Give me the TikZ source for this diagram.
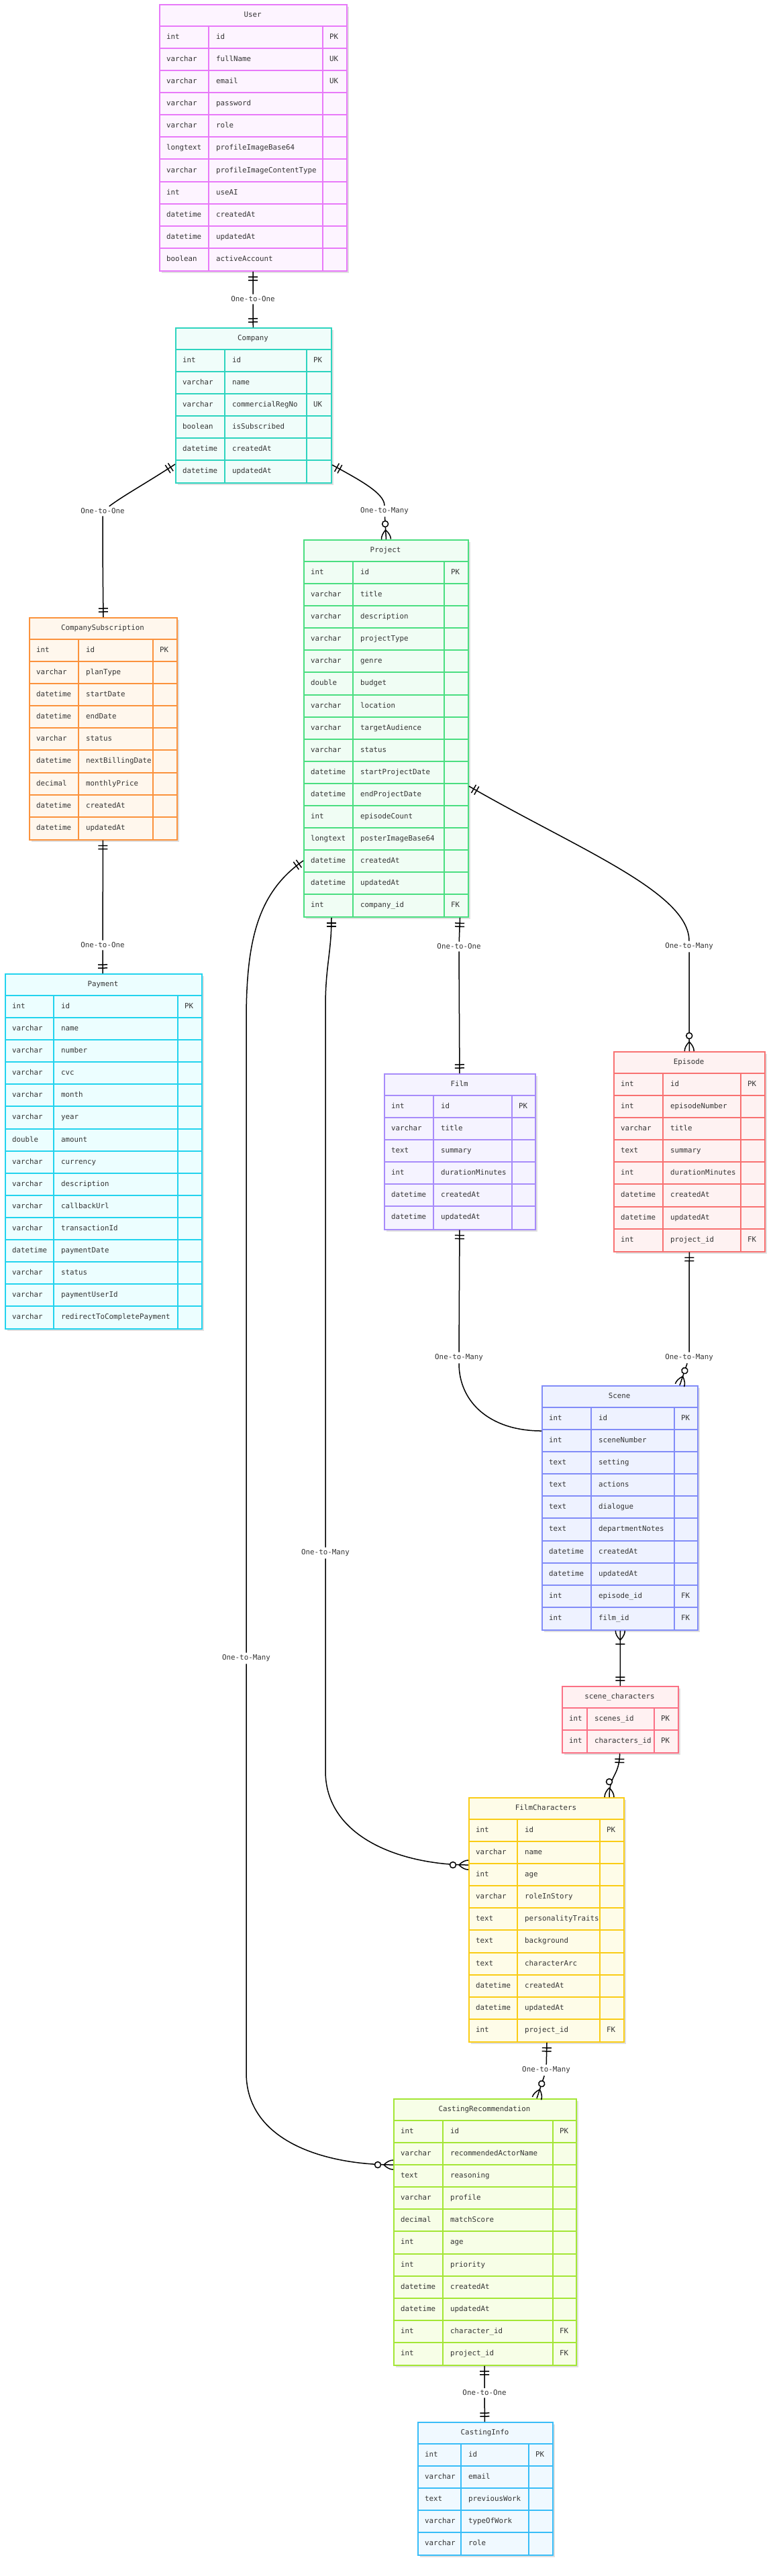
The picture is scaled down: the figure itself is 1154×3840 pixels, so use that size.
\documentclass[tikz,border=0pt]{standalone}
\usepackage{fontspec}
\setmainfont{DejaVu Sans Mono}
\usetikzlibrary{decorations.markings,shadows}

\definecolor{txt}{HTML}{333333}
\definecolor{userline}{HTML}{E879F9}    \definecolor{userfill}{HTML}{FDF4FF}
\definecolor{compline}{HTML}{2DD4BF}    \definecolor{compfill}{HTML}{F0FDFA}
\definecolor{subsline}{HTML}{FB923C}    \definecolor{subsfill}{HTML}{FFF7ED}
\definecolor{projline}{HTML}{4ADE80}    \definecolor{projfill}{HTML}{F0FDF4}
\definecolor{payline}{HTML}{22D3EE}     \definecolor{payfill}{HTML}{ECFEFF}
\definecolor{filmline}{HTML}{A78BFA}    \definecolor{filmfill}{HTML}{F5F3FF}
\definecolor{episline}{HTML}{F87171}    \definecolor{episfill}{HTML}{FEF2F2}
\definecolor{sceneline}{HTML}{818CF8}   \definecolor{scenefill}{HTML}{EEF2FF}
\definecolor{scline}{HTML}{FB7185}      \definecolor{scfill}{HTML}{FFF1F2}
\definecolor{charline}{HTML}{FACC15}    \definecolor{charfill}{HTML}{FEFCE8}
\definecolor{recline}{HTML}{A3E635}     \definecolor{recfill}{HTML}{F7FEE7}
\definecolor{infoline}{HTML}{38BDF8}    \definecolor{infofill}{HTML}{F0F9FF}

\newcommand{\rowh}{33.07}
% #1 node, #2 colour, #3 left, #4 top, #5 col 1, #6 col 2, #7 right, #8 title, #9 rows
\newcommand{\erentity}[9]{%
    \foreach [count=\n] \ftype/\fname/\fkey in {#9} {\xdef\nrows{\n}}
    \pgfmathsetmacro{\ebottom}{#4+(\nrows+1)*\rowh}
    \node[entity=#2, anchor=north west, minimum width={(#7-#3)*1pt},
        minimum height={(\ebottom-#4)*1pt}] (#1) at (#3,#4) {};
    \node[cell, anchor=center] at ({(#3+#7)/2},{#4+\rowh/2}) {#8};
    \foreach [count=\n] \ftype/\fname/\fkey in {#9} {
        \pgfmathsetmacro{\ry}{#4+\n*\rowh}
        \draw[#2line, line width=2pt] (#3,\ry) -- (#7,\ry);
        \node[cell] at ({#3+11},{\ry+\rowh/2}) {\ftype};
        \node[cell] at ({#5+11},{\ry+\rowh/2}) {\fname};
        \node[cell] at ({#6+10},{\ry+\rowh/2}) {\fkey};
    }
    \draw[#2line, line width=2pt] (#5,{#4+\rowh}) -- (#5,\ebottom) (#6,{#4+\rowh}) -- (#6,\ebottom);
}

\begin{document}
\begin{tikzpicture}[x=1pt,y=-1pt]
    \tikzstyle{cell}=[anchor=west, inner sep=0pt, text=txt, font=\fontsize{10.8}{13}\selectfont, text height=8pt, text depth=2pt]
    \tikzstyle{rel}=[draw=black, line width=1.5pt]
    \tikzstyle{rel label}=[inner sep=3pt, text=txt, font=\fontsize{10.8}{13}\selectfont]
    \tikzstyle{mark line}=[draw=black, line width=1.5pt]
    \tikzset{entity/.style={rectangle, draw=#1line, fill=#1fill, line width=2pt, inner sep=0pt,
        drop shadow={opacity=0.12, fill=black, shadow xshift=3pt, shadow yshift=-3pt}}}
    \tikzstyle{bars start}=[postaction={decorate, decoration={markings, mark=at position 0 with {\draw[mark line] (8,-7) -- (8,7) (13,-7) -- (13,7);}}}]
    \tikzstyle{bars end}=[postaction={decorate, decoration={markings, mark=at position 1 with {\draw[mark line] (-8,-7) -- (-8,7) (-13,-7) -- (-13,7);}}}]
    \tikzstyle{many end}=[postaction={decorate, decoration={markings, mark=at position 1 with {\draw[mark line] (-14,0) .. controls (-9.3,4.7) and (-4.7,7) .. (0,7) (-14,0) .. controls (-9.3,-4.7) and (-4.7,-7) .. (0,-7); \draw[mark line, fill=white] (-23,0) circle (4.5);}}}]
    \tikzstyle{onemany start}=[postaction={decorate, decoration={markings, mark=at position 0 with {\draw[mark line] (14,0) .. controls (9.3,4.7) and (4.7,7) .. (0,7) (14,0) .. controls (9.3,-4.7) and (4.7,-7) .. (0,-7) (20,-7) -- (20,7);}}}]

    \useasboundingbox (0,0) rectangle (1154,3840);

    % Entities
    \erentity{User}{user}{237}{6}{311}{481}{516}{User}{int/id/PK, varchar/fullName/UK, varchar/email/UK, varchar/password/{}, varchar/role/{}, longtext/profileImageBase64/{}, varchar/profileImageContentType/{}, int/useAI/{}, datetime/createdAt/{}, datetime/updatedAt/{}, boolean/activeAccount/{}}
    \erentity{Company}{comp}{261}{488}{335}{457}{493}{Company}{int/id/PK, varchar/name/{}, varchar/commercialRegNo/UK, boolean/isSubscribed/{}, datetime/createdAt/{}, datetime/updatedAt/{}}
    \erentity{CompanySubscription}{subs}{43}{920}{117}{228}{263}{CompanySubscription}{int/id/PK, varchar/planType/{}, datetime/startDate/{}, datetime/endDate/{}, varchar/status/{}, datetime/nextBillingDate/{}, decimal/monthlyPrice/{}, datetime/createdAt/{}, datetime/updatedAt/{}}
    \erentity{Project}{proj}{452}{804}{526}{662}{697}{Project}{int/id/PK, varchar/title/{}, varchar/description/{}, varchar/projectType/{}, varchar/genre/{}, double/budget/{}, varchar/location/{}, varchar/targetAudience/{}, varchar/status/{}, datetime/startProjectDate/{}, datetime/endProjectDate/{}, int/episodeCount/{}, longtext/posterImageBase64/{}, datetime/createdAt/{}, datetime/updatedAt/{}, int/company\_id/FK}
    \erentity{Payment}{pay}{7}{1451}{80}{265}{300}{Payment}{int/id/PK, varchar/name/{}, varchar/number/{}, varchar/cvc/{}, varchar/month/{}, varchar/year/{}, double/amount/{}, varchar/currency/{}, varchar/description/{}, varchar/callbackUrl/{}, varchar/transactionId/{}, datetime/paymentDate/{}, varchar/status/{}, varchar/paymentUserId/{}, varchar/redirectToCompletePayment/{}}
    \erentity{Film}{film}{572}{1600}{646}{763}{797}{Film}{int/id/PK, varchar/title/{}, text/summary/{}, int/durationMinutes/{}, datetime/createdAt/{}, datetime/updatedAt/{}}
    \erentity{Episode}{epis}{914}{1567}{988}{1104}{1139}{Episode}{int/id/PK, int/episodeNumber/{}, varchar/title/{}, text/summary/{}, int/durationMinutes/{}, datetime/createdAt/{}, datetime/updatedAt/{}, int/project\_id/FK}
    \erentity{Scene}{scene}{807}{2065}{881}{1005}{1039}{Scene}{int/id/PK, int/sceneNumber/{}, text/setting/{}, text/actions/{}, text/dialogue/{}, text/departmentNotes/{}, datetime/createdAt/{}, datetime/updatedAt/{}, int/episode\_id/FK, int/film\_id/FK}
    \erentity{SceneCharacters}{sc}{837}{2513}{875}{975}{1010}{scene\_characters}{int/scenes\_id/PK, int/characters\_id/PK}
    \erentity{FilmCharacters}{char}{698}{2679}{771}{894}{929}{FilmCharacters}{int/id/PK, varchar/name/{}, int/age/{}, varchar/roleInStory/{}, text/personalityTraits/{}, text/background/{}, text/characterArc/{}, datetime/createdAt/{}, datetime/updatedAt/{}, int/project\_id/FK}
    \erentity{CastingRecommendation}{rec}{586}{3128}{660}{824}{858}{CastingRecommendation}{int/id/PK, varchar/recommendedActorName/{}, text/reasoning/{}, varchar/profile/{}, decimal/matchScore/{}, int/age/{}, int/priority/{}, datetime/createdAt/{}, datetime/updatedAt/{}, int/character\_id/FK, int/project\_id/FK}
    \erentity{CastingInfo}{info}{622}{3610}{687}{788}{823}{CastingInfo}{int/id/PK, varchar/email/{}, text/previousWork/{}, varchar/typeOfWork/{}, varchar/role/{}}

    % Relationship labels
    \node[rel label] (uc-lbl) at (377,446) {One-to-One};
    \node[rel label] (cs-lbl) at (153,762) {One-to-One};
    \node[rel label] (cp-lbl) at (573,762) {One-to-Many};
    \node[rel label] (sp-lbl) at (153,1409) {One-to-One};
    \node[rel label] (pf-lbl) at (684,1411) {One-to-One};
    \node[rel label] (pe-lbl) at (1027,1411) {One-to-Many};
    \node[rel label] (fs-lbl) at (684,2024) {One-to-Many};
    \node[rel label] (es-lbl) at (1027,2024) {One-to-Many};
    \node[rel label] (pfc-lbl) at (485,2315) {One-to-Many};
    \node[rel label] (pcr-lbl) at (367,2472) {One-to-Many};
    \node[rel label] (fcr-lbl) at (814,3086) {One-to-Many};
    \node[rel label] (cri-lbl) at (722,3567) {One-to-One};

    % Relationships
    \draw[rel, bars start] (User) -- (uc-lbl);
    \draw[rel, bars end] (uc-lbl) -- (Company);

    \draw[rel, bars start] (Company.west |- 0,692) .. controls (215,722) and (185,738) .. (cs-lbl);
    \draw[rel, bars end] (cs-lbl) .. controls (153,800) and (153,840) .. (CompanySubscription.north);

    \draw[rel, bars start] (Company.east |- 0,693) .. controls (535,715) and (573,735) .. (cp-lbl);
    \draw[rel, many end] (cp-lbl) -- (Project.north);

    \draw[rel, bars start] (CompanySubscription) -- (sp-lbl);
    \draw[rel, bars end] (sp-lbl) -- (Payment);

    \draw[rel, bars start] (Project.south -| Film.north) -- (pf-lbl);
    \draw[rel, bars end] (pf-lbl) -- (Film);

    \draw[rel, bars start] (Project.east |- 0,1172) .. controls (860,1265) and (1027,1330) .. (pe-lbl);
    \draw[rel, many end] (pe-lbl) -- (Episode);

    \draw[rel, bars start] (Film) -- (fs-lbl);
    \draw[rel, many end] (fs-lbl) .. controls (684,2090) and (730,2133) .. (Scene.west |- 0,2133);

    \draw[rel, bars start] (Episode) -- (es-lbl);
    \draw[rel, many end] (es-lbl) -- (Scene.north -| 1013,0);

    \draw[rel, onemany start, bars end] (Scene) -- (SceneCharacters);
    \draw[rel, bars start, many end] (SceneCharacters) .. controls (923,2648) and (908,2645) .. (FilmCharacters.north -| 908,0);

    \draw[rel, bars start] (Project.south -| 494,0) .. controls (494,1420) and (485,1440) .. (485,1500) -- (pfc-lbl);
    \draw[rel, many end] (pfc-lbl) -- (485,2640) .. controls (485,2740) and (600,2780) .. (FilmCharacters.west |- 0,2780);

    \draw[rel, bars start] (Project.west |- 0,1283) .. controls (385,1330) and (367,1400) .. (367,1520) -- (pcr-lbl);
    \draw[rel, many end] (pcr-lbl) -- (367,3090) .. controls (367,3190) and (480,3227) .. (CastingRecommendation.west |- 0,3227);

    \draw[rel, bars start] (FilmCharacters.south -| 815,0) -- (fcr-lbl);
    \draw[rel, many end] (fcr-lbl) -- (CastingRecommendation.north -| 800,0);

    \draw[rel, bars start] (CastingRecommendation) -- (cri-lbl);
    \draw[rel, bars end] (cri-lbl) -- (CastingInfo);
\end{tikzpicture}
\end{document}
